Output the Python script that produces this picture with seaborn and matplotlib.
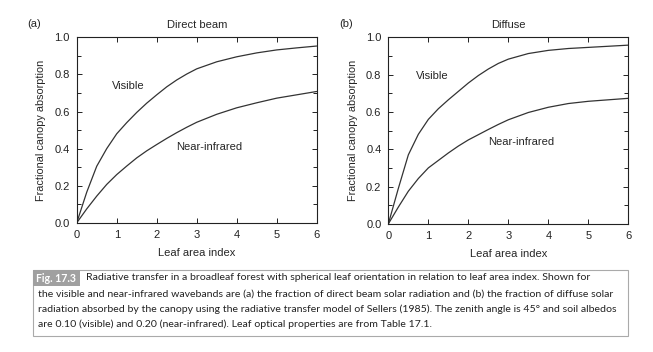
import matplotlib.pyplot as plt
import matplotlib.patches as mpatches
from matplotlib.ticker import MultipleLocator
import seaborn as sns
import pandas as pd


# Values

lai = [0, 0.25, 0.5, 0.75, 1, 1.25, 1.5, 1.75, 2, 2.25, 2.5, 2.75, 3, 3.5, 4, 4.5, 5, 5.5, 6]

direct_visible = [0.0, 0.165, 0.305, 0.40, 0.48, 0.54, 0.595, 0.645, 0.69, 0.733, 0.77, 0.802, 0.83,
                  0.868, 0.895, 0.916, 0.932, 0.943, 0.953]
direct_nir     = [0.0, 0.075, 0.144, 0.207, 0.26, 0.306, 0.35, 0.388, 0.422, 0.455, 0.486, 0.515, 0.542,
                  0.585, 0.62, 0.647, 0.672, 0.69, 0.708]

diffuse_visible = [0.0, 0.19, 0.37, 0.48, 0.56, 0.617, 0.665, 0.71, 0.755, 0.795, 0.83, 0.86, 0.883,
                   0.913, 0.93, 0.94, 0.946, 0.952, 0.958]
diffuse_nir     = [0.0, 0.09, 0.175, 0.243, 0.30, 0.34, 0.38, 0.417, 0.45, 0.478, 0.506, 0.533, 0.558,
                   0.597, 0.625, 0.645, 0.657, 0.665, 0.673]

panels = [("(a)", "Direct beam", direct_visible, direct_nir, (1.28, 0.74), (3.3, 0.41)),
          ("(b)", "Diffuse", diffuse_visible, diffuse_nir, (1.1, 0.79), (3.31, 0.44))]

caption_lines = [
  "Radiative transfer in a broadleaf forest with spherical leaf orientation in relation to leaf area index. Shown for",
  "the visible and near-infrared wavebands are (a) the fraction of direct beam solar radiation and (b) the fraction of diffuse solar",
  "radiation absorbed by the canopy using the radiative transfer model of Sellers (1985). The zenith angle is 45\u00b0 and soil albedos",
  "are 0.10 (visible) and 0.20 (near-infrared). Leaf optical properties are from Table 17.1.",
]


sns.set_style("ticks")
plt.rcParams['font.family'] = ['Liberation Sans', 'DejaVu Sans']

fig = plt.figure(figsize=(6.53, 3.52), dpi=100)
axPositions = [[0.1175, 0.367, 0.3675, 0.527],
               [0.5947, 0.364, 0.3675, 0.530]]

for pos, (tag, title, vis, nir, visPos, nirPos) in zip(axPositions, panels):
  ax = fig.add_axes(pos)
  df = pd.DataFrame({"LAI": lai * 2,
                     "Absorption": vis + nir,
                     "Band": ["Visible"] * len(lai) + ["Near-infrared"] * len(lai)})
  sns.lineplot(ax=ax, data=df, x="LAI", y="Absorption", units="Band", estimator=None,
               color="#333333", linewidth=0.9, legend=False)

  ax.set_xlim(0, 6)
  ax.set_ylim(0, 1.0)
  ax.xaxis.set_major_locator(MultipleLocator(1))
  ax.yaxis.set_minor_locator(MultipleLocator(0.1))
  ax.set_yticks([0, 0.2, 0.4, 0.6, 0.8, 1.0])
  ax.set_yticklabels(["0.0", "0.2", "0.4", "0.6", "0.8", "1.0"])
  ax.tick_params(which="both", direction="in", top=True, right=True, width=0.7, colors="#222222", labelsize=8)
  ax.tick_params(which="major", length=3.5, pad=5)
  ax.tick_params(which="minor", length=3)
  for s in ax.spines.values():
    s.set_visible(True)
    s.set_linewidth(0.8)
    s.set_color("#222222")

  ax.set_xlabel("Leaf area index", fontsize=8, labelpad=6)
  ax.set_ylabel("Fractional canopy absorption", fontsize=7.8, labelpad=6)
  ax.set_title(title, fontsize=8, pad=7)
  ax.text(-0.205, 1.045, tag, transform=ax.transAxes, fontsize=8, ha="left", va="bottom")
  ax.text(visPos[0], visPos[1], "Visible", fontsize=8, ha="center", va="center")
  ax.text(nirPos[0], nirPos[1], "Near-infrared", fontsize=8, ha="center", va="center")


# Caption box

boxLeft, boxRight = 33 / 653, 628 / 653
boxTop, boxBottom = 1 - 270 / 352, 1 - 336 / 352
fig.patches.append(mpatches.Rectangle((boxLeft, boxBottom), boxRight - boxLeft, boxTop - boxBottom,
                                      transform=fig.transFigure, fill=False, edgecolor="#aaaaaa", linewidth=0.8))
fig.patches.append(mpatches.Rectangle((boxLeft, 1 - 286 / 352), 47 / 653, 16 / 352,
                                      transform=fig.transFigure, facecolor="#a0a0a0", edgecolor="none"))
fig.text(boxLeft + 23.5 / 653, 1 - 278 / 352, "Fig. 17.3", color="white", fontsize=7.6, fontweight="bold",
         family="Lato", ha="center", va="center")

lineY = [278, 294, 309, 324]
for i, (line, y) in enumerate(zip(caption_lines, lineY)):
  x = 86 / 653 if i == 0 else 38 / 653
  fig.text(x, 1 - y / 352, line, fontsize=7.55, family="Lato", color="#222222", ha="left", va="center")

fig.savefig("out.png", dpi=100)
